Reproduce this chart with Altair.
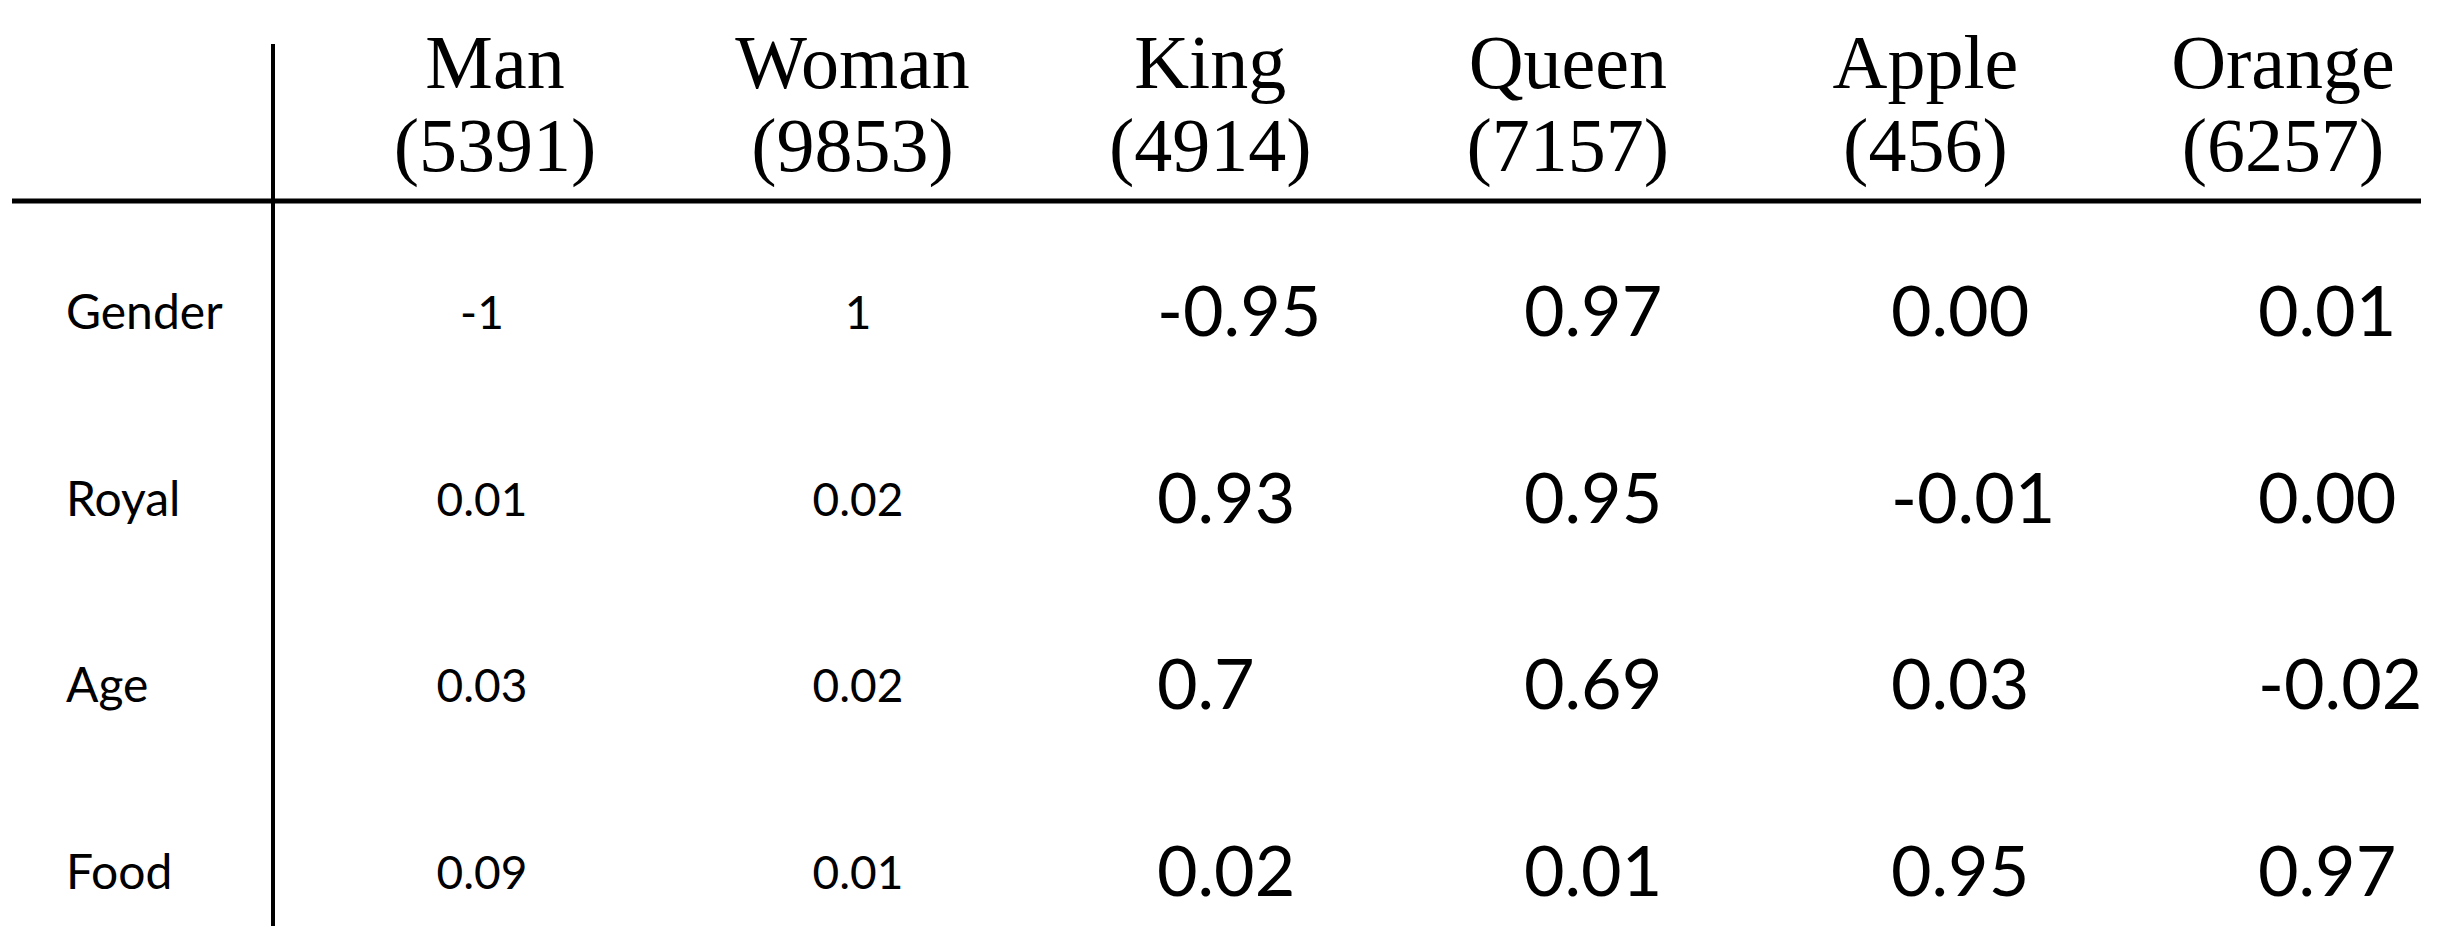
import altair as alt
import pandas as pd

columns = ["Man", "Woman", "King", "Queen", "Apple", "Orange"]
counts = [5391, 9853, 4914, 7157, 456, 6257]
features = ["Gender", "Royal", "Age", "Food"]

man_vals = ["-1", "0.01", "0.03", "0.09"]
woman_vals = ["1", "0.02", "0.02", "0.01"]
king_vals = ["-0.95", "0.93", "0.7", "0.02"]
queen_vals = ["0.97", "0.95", "0.69", "0.01"]
apple_vals = ["0.00", "-0.01", "0.03", "0.95"]
orange_vals = ["0.01", "0.00", "-0.02", "0.97"]

small_cols = ["Man", "Woman"]
big_cols = ["King", "Queen", "Apple", "Orange"]

col_vals = dict(zip(columns, [man_vals, woman_vals, king_vals, queen_vals, apple_vals, orange_vals]))

header = pd.DataFrame({
    "col": columns,
    "name": columns,
    "count": ["(" + str(c) + ")" for c in counts],
})
rows = pd.DataFrame({"feature": features})
cells = pd.DataFrame([
    {"col": c, "feature": f, "label": v}
    for c in columns for f, v in zip(features, col_vals[c])
])
small = cells[cells["col"].isin(small_cols)]
big = cells[cells["col"].isin(big_cols)]
one = pd.DataFrame({"k": [0]})

SERIF = "Liberation Serif"
SANS = "Lato"

x_head = alt.X("col:N", scale=alt.Scale(type="point", domain=columns, range=[487, 2275], padding=0), axis=None)
x_small = alt.X("col:N", scale=alt.Scale(type="point", domain=small_cols, range=[474, 850], padding=0), axis=None)
x_big = alt.X("col:N", scale=alt.Scale(type="point", domain=big_cols, range=[1149, 2250], padding=0), axis=None)
y_rows = alt.Y("feature:N", scale=alt.Scale(type="point", domain=features, range=[307, 867], padding=0), axis=None)

head_names = alt.Chart(header).mark_text(
    font=SERIF, fontSize=76, baseline="alphabetic", align="center", color="black"
).encode(x=x_head, y=alt.value(80), text="name:N")

head_counts = alt.Chart(header).mark_text(
    font=SERIF, fontSize=76, baseline="alphabetic", align="center", color="black"
).encode(x=x_head, y=alt.value(163), text="count:N")

row_labels = alt.Chart(rows).mark_text(
    font=SANS, fontSize=48, baseline="middle", align="left", color="black"
).encode(x=alt.value(58), y=y_rows, text="feature:N")

small_text = alt.Chart(small).mark_text(
    font=SANS, fontSize=46, baseline="middle", align="center", color="black"
).encode(x=x_small, y=y_rows, text="label:N")

big_text = alt.Chart(big).mark_text(
    font=SANS, fontSize=70, baseline="middle", align="left", color="black"
).encode(x=x_big, y=y_rows, text="label:N")

h_rule = alt.Chart(one).mark_rule(color="black", strokeWidth=5).encode(
    x=alt.value(4), x2=alt.value(2413), y=alt.value(193)
)
v_rule = alt.Chart(one).mark_rule(color="black", strokeWidth=4).encode(
    x=alt.value(265), y=alt.value(36), y2=alt.value(918)
)

chart = alt.layer(
    h_rule, v_rule, head_names, head_counts, row_labels, small_text, big_text
).resolve_scale(x="independent").properties(
    width=2430, height=918, padding=0,
    autosize=alt.AutoSizeParams(type="none"),
    background="white",
).configure_view(stroke=None)

chart.save("out.html", embed_options={"renderer": "svg", "actions": False})
